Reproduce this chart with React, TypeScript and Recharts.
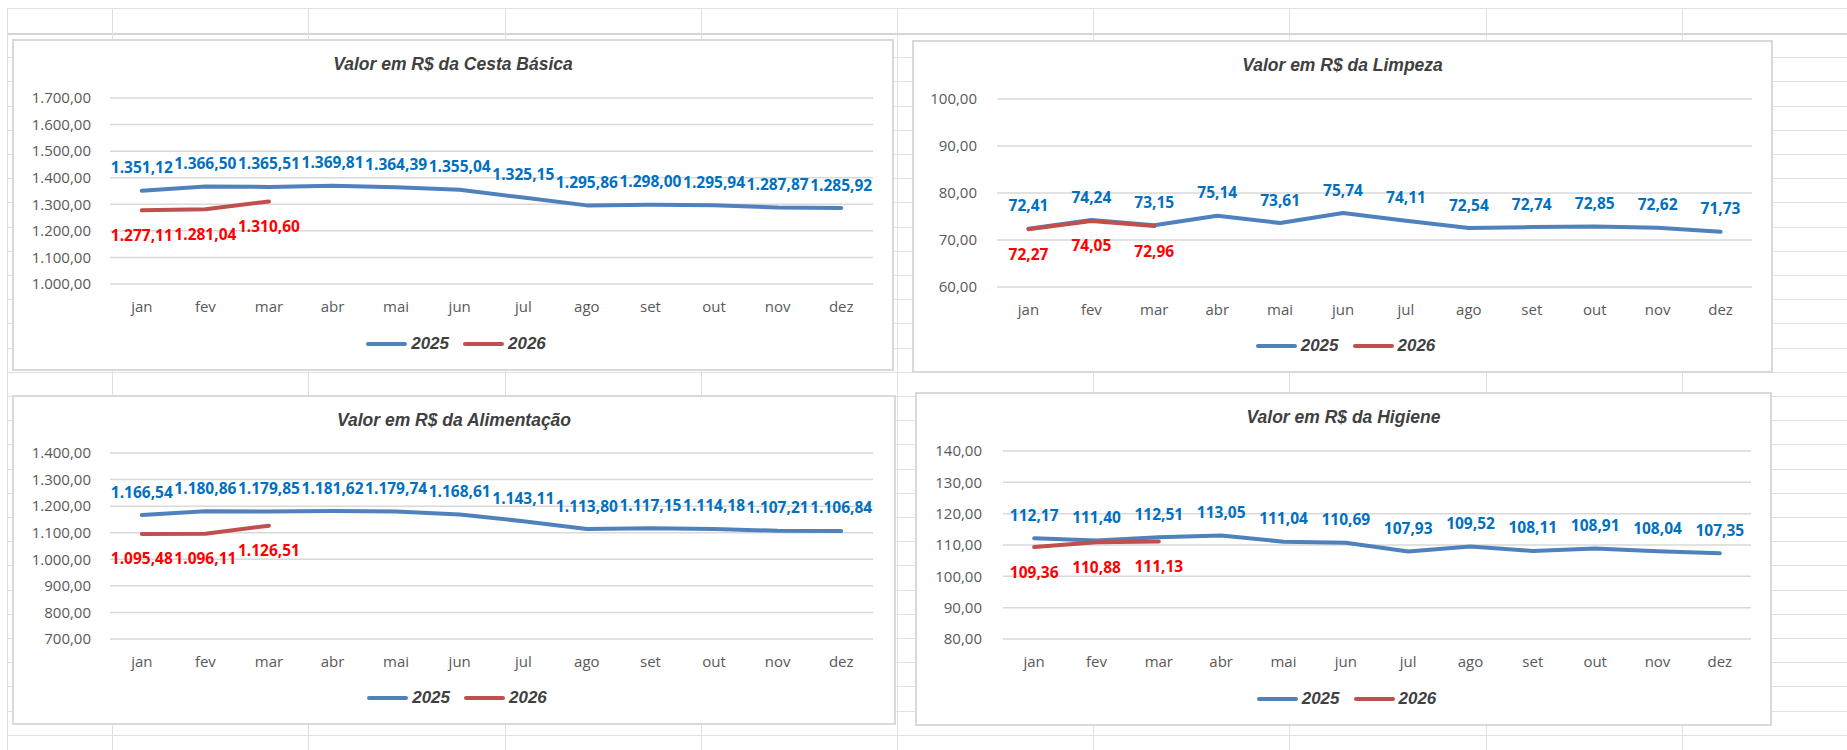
import React from 'react';
import { LineChart, Line, XAxis, YAxis, CartesianGrid, LabelList } from 'recharts';

// ---------- data ----------
const months = ['jan', 'fev', 'mar', 'abr', 'mai', 'jun', 'jul', 'ago', 'set', 'out', 'nov', 'dez'];

const cesta2025 = [1351.12, 1366.5, 1365.51, 1369.81, 1364.39, 1355.04, 1325.15, 1295.86, 1298.0, 1295.94, 1287.87, 1285.92];
const cesta2026 = [1277.11, 1281.04, 1310.6];
const cestaTicks = [1000, 1100, 1200, 1300, 1400, 1500, 1600, 1700];

const limpeza2025 = [72.41, 74.24, 73.15, 75.14, 73.61, 75.74, 74.11, 72.54, 72.74, 72.85, 72.62, 71.73];
const limpeza2026 = [72.27, 74.05, 72.96];
const limpezaTicks = [60, 70, 80, 90, 100];

const alimentacao2025 = [1166.54, 1180.86, 1179.85, 1181.62, 1179.74, 1168.61, 1143.11, 1113.8, 1117.15, 1114.18, 1107.21, 1106.84];
const alimentacao2026 = [1095.48, 1096.11, 1126.51];
const alimentacaoTicks = [700, 800, 900, 1000, 1100, 1200, 1300, 1400];

const higiene2025 = [112.17, 111.4, 112.51, 113.05, 111.04, 110.69, 107.93, 109.52, 108.11, 108.91, 108.04, 107.35];
const higiene2026 = [109.36, 110.88, 111.13];
const higieneTicks = [80, 90, 100, 110, 120, 130, 140];

const seriesNames = ['2025', '2026'];

// ---------- style ----------
const BLUE_LINE = '#4F81BD';
const RED_LINE = '#C0504D';
const BLUE_LABEL = '#0070C0';
const RED_LABEL = '#FF0000';
const AXIS_TEXT = '#595959';
const TITLE_TEXT = '#404040';
const SHEET_LINE = '#e0e0e0';
const FONT = '"Open Sans", "Noto Sans", sans-serif';
const TITLE_FONT = '"Liberation Sans", Arial, sans-serif';

function fmt(v: number): string {
  const [i, d] = v.toFixed(2).split('.');
  return i.replace(/\B(?=(\d{3})+(?!\d))/g, '.') + ',' + d;
}

function makeLabel(color: string, above: boolean) {
  return (props: any) => {
    const vb = props.viewBox || {};
    const x = props.x ?? vb.x;
    const y = props.y ?? vb.y;
    const value = props.value;
    if (value === null || value === undefined || x == null || y == null) return null;
    return (
      <text
        x={x}
        y={above ? y - 17.5 : y + 30.5}
        textAnchor="middle"
        fill={color}
        fontFamily={FONT}
        fontWeight={700}
        fontSize={15.5}
      >
        {fmt(Number(value))}
      </text>
    );
  };
}

type Box = { left: number; top: number; width: number; height: number };
type ChartProps = {
  title: string;
  s2025: number[];
  s2026: number[];
  ticks: number[];
  box: Box;
  mTop: number;
  mRight: number;
  mBottom: number;
  yWidth: number;
  yGap: number;
};

function Legend2() {
  const item = (color: string, name: string) => (
    <div style={{ display: 'flex', alignItems: 'center' }}>
      <div style={{ width: 41, height: 4, borderRadius: 2, background: color, marginRight: 4 }} />
      <span
        style={{
          fontFamily: TITLE_FONT,
          fontWeight: 700,
          fontStyle: 'italic',
          fontSize: 17,
          color: TITLE_TEXT,
          lineHeight: '20px',
        }}
      >
        {name}
      </span>
    </div>
  );
  return (
    <div style={{ display: 'flex', gap: 14, alignItems: 'center' }}>
      {item(BLUE_LINE, seriesNames[0])}
      {item(RED_LINE, seriesNames[1])}
    </div>
  );
}

function SheetChart(p: ChartProps) {
  const data = months.map((m, i) => ({
    month: m,
    y2025: p.s2025[i],
    y2026: i < p.s2026.length ? p.s2026[i] : null,
  }));
  const plotW = p.box.width - p.yWidth - p.mRight;
  const pad = plotW / 24;
  const min = p.ticks[0];
  const max = p.ticks[p.ticks.length - 1];
  return (
    <div
      style={{
        position: 'absolute',
        left: p.box.left,
        top: p.box.top,
        width: p.box.width,
        height: p.box.height,
        background: '#ffffff',
      }}
    >
      <div
        style={{
          position: 'absolute',
          inset: 0,
          border: '2px solid #d9d9d9',
          boxSizing: 'border-box',
        }}
      />
      <div
        style={{
          position: 'absolute',
          left: 0,
          top: 15,
          width: '100%',
          textAlign: 'center',
          fontFamily: TITLE_FONT,
          fontWeight: 700,
          fontStyle: 'italic',
          fontSize: 17.5,
          lineHeight: '20px',
          color: TITLE_TEXT,
        }}
      >
        {p.title}
      </div>
      <div style={{ position: 'absolute', left: 0, top: 0 }}>
        <LineChart
          width={p.box.width}
          height={p.box.height}
          data={data}
          margin={{ top: p.mTop, right: p.mRight, bottom: 0, left: 0 }}
        >
          <CartesianGrid vertical={false} stroke="#d9d9d9" strokeWidth={1.5} />
          <XAxis
            dataKey="month"
            height={p.mBottom}
            tickLine={false}
            axisLine={false}
            tickSize={0}
            tickMargin={17}
            interval={0}
            padding={{ left: pad, right: pad }}
            tick={{ fill: AXIS_TEXT, fontSize: 15, fontFamily: FONT }}
          />
          <YAxis
            type="number"
            domain={[min, max]}
            ticks={p.ticks}
            interval={0}
            width={p.yWidth}
            tickLine={false}
            axisLine={false}
            tickSize={0}
            tickMargin={p.yGap}
            tickFormatter={(v: number) => fmt(v)}
            tick={{ fill: AXIS_TEXT, fontSize: 15, fontFamily: FONT }}
          />
          <Line
            type="linear"
            dataKey="y2025"
            name={seriesNames[0]}
            stroke={BLUE_LINE}
            strokeWidth={4}
            strokeLinecap="round"
            strokeLinejoin="round"
            dot={false}
            activeDot={false}
            isAnimationActive={false}
          >
            <LabelList dataKey="y2025" content={makeLabel(BLUE_LABEL, true)} />
          </Line>
          <Line
            type="linear"
            dataKey="y2026"
            name={seriesNames[1]}
            stroke={RED_LINE}
            strokeWidth={4}
            strokeLinecap="round"
            strokeLinejoin="round"
            dot={false}
            activeDot={false}
            connectNulls={false}
            isAnimationActive={false}
          >
            <LabelList dataKey="y2026" content={makeLabel(RED_LABEL, false)} />
          </Line>
        </LineChart>
      </div>
      <div
        style={{
          position: 'absolute',
          left: 3,
          top: p.box.height - 37,
          width: '100%',
          display: 'flex',
          justifyContent: 'center',
        }}
      >
        <Legend2 />
      </div>
    </div>
  );
}

// spreadsheet background grid (layout only)
const colXs = [7, 112, 308, 505, 701, 897, 1093, 1289, 1486, 1682];
const rowYs = [8, ...Array.from({ length: 30 }, (_, k) => Math.round(33 + 24.2 * k))];

function SheetGrid() {
  return (
    <>
      {rowYs.map((y, i) => (
        <div
          key={'r' + i}
          style={{
            position: 'absolute',
            left: 7,
            top: y,
            width: 1847 - 7,
            height: i === 1 ? 2 : 1,
            background: i === 1 ? '#d6d6d6' : SHEET_LINE,
          }}
        />
      ))}
      {colXs.map((x, i) => (
        <div
          key={'c' + i}
          style={{ position: 'absolute', left: x, top: 8, width: 1, height: 750 - 8, background: SHEET_LINE }}
        />
      ))}
    </>
  );
}

export default function App() {
  return (
    <div
      style={{
        position: 'fixed',
        left: 0,
        top: 0,
        width: 1847,
        height: 750,
        background: '#ffffff',
        overflow: 'hidden',
      }}
    >
      <SheetGrid />
      <SheetChart
        title="Valor em R$ da Cesta Básica"
        s2025={cesta2025}
        s2026={cesta2026}
        ticks={cestaTicks}
        box={{ left: 12, top: 39, width: 882, height: 332 }}
        mTop={59}
        mRight={21}
        mBottom={87}
        yWidth={98}
        yGap={19}
      />
      <SheetChart
        title="Valor em R$ da Limpeza"
        s2025={limpeza2025}
        s2026={limpeza2026}
        ticks={limpezaTicks}
        box={{ left: 912, top: 40, width: 861, height: 333 }}
        mTop={59}
        mRight={21}
        mBottom={86}
        yWidth={85}
        yGap={20}
      />
      <SheetChart
        title="Valor em R$ da Alimentação"
        s2025={alimentacao2025}
        s2026={alimentacao2026}
        ticks={alimentacaoTicks}
        box={{ left: 12, top: 395, width: 884, height: 330 }}
        mTop={58}
        mRight={23}
        mBottom={86}
        yWidth={98}
        yGap={19}
      />
      <SheetChart
        title="Valor em R$ da Higiene"
        s2025={higiene2025}
        s2026={higiene2026}
        ticks={higieneTicks}
        box={{ left: 915, top: 392, width: 857, height: 334 }}
        mTop={59}
        mRight={21}
        mBottom={87}
        yWidth={88}
        yGap={21}
      />
    </div>
  );
}
